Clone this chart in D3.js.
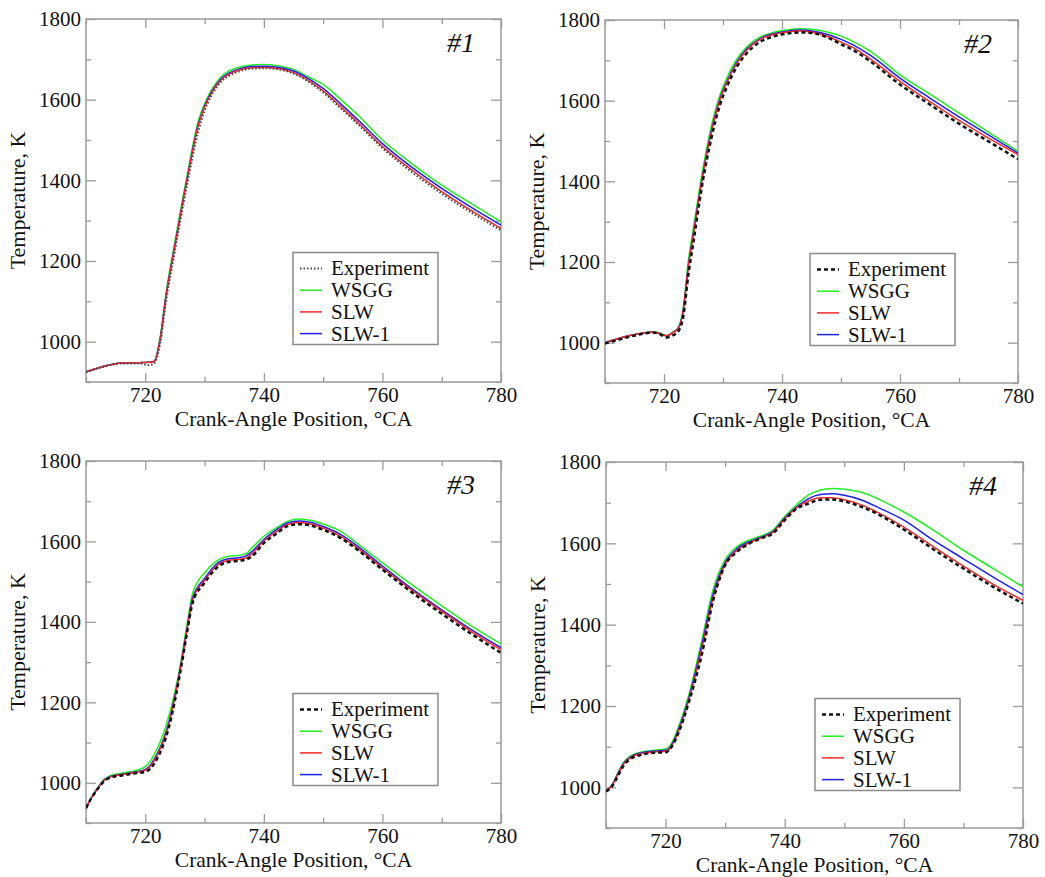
<!DOCTYPE html>
<html><head><meta charset="utf-8">
<script src="https://cdn.jsdelivr.net/npm/d3@7"></script>
<style>
body{margin:0;background:#fff;}
svg{display:block;font-family:"Liberation Serif","Times New Roman",serif;}
</style></head>
<body>
<svg id="chart" width="1045" height="877"></svg>
<script>
// ---------------- DATA ----------------
const seriesNames = ["Experiment","WSGG","SLW","SLW-1"];
const panelLabels = ["#1","#2","#3","#4"];
const xTicksMajor = [720,740,760,780];
const xTicksMinor = [710,730,750,770];
const yTicksMajor = [1000,1200,1400,1600,1800];
const yTicksMinor = [900,1100,1300,1500,1700];

// Panel #1
const p1Angle = [710,713,716,719,720.5,721.5,722.5,723.5,725,727,729,730,731,732,733,734,736,738,740,742,745,748,750,753,756,760,765,770,775,780];
const p1Exp   = [924,938,946,946,942,946,995,1100,1225,1385,1525,1572,1606,1630,1648,1658,1671,1677,1678,1676,1665,1640,1618,1578,1537,1480,1420,1367,1320,1276];
const p1Wsgg  = [925,939,947,948,949,952,1010,1120,1248,1408,1550,1590,1620,1643,1660,1670,1681,1686,1687,1685,1675,1653,1638,1600,1560,1500,1441,1388,1342,1297];
const p1Slw   = [925,939,947,948,949,951,1005,1112,1238,1398,1540,1582,1612,1635,1652,1662,1674,1679,1680,1678,1667,1643,1622,1582,1541,1484,1425,1372,1325,1281];
const p1Slw1  = [925,939,947,948,949,951,1006,1114,1240,1400,1542,1584,1615,1638,1655,1665,1677,1682,1683,1681,1671,1648,1628,1589,1548,1491,1432,1380,1333,1289];

// Panel #2
const p2Angle = [710,712,714,716,718,719,720.5,721.5,722.5,723.3,724.1,725,726.4,728,729.5,730.6,732.3,734,736.3,738.5,740.8,743,745,748,750,752,755,760,765,770,775,780];
const p2Exp   = [998,1006,1014,1021,1025,1023,1013,1018,1030,1068,1165,1250,1385,1505,1590,1632,1683,1717,1746,1759,1766,1769,1768,1755,1740,1726,1697,1640,1591,1543,1499,1455];
const p2Wsgg  = [1000,1009,1017,1023,1027,1025,1018,1026,1040,1090,1200,1285,1415,1535,1615,1655,1702,1733,1758,1769,1775,1778,1777,1769,1760,1747,1722,1664,1617,1569,1522,1474];
const p2Slw   = [1000,1009,1017,1023,1026,1024,1017,1025,1037,1082,1185,1270,1400,1520,1603,1643,1692,1725,1752,1764,1770,1773,1770,1758,1745,1732,1703,1648,1598,1551,1507,1466];
const p2Slw1  = [1000,1009,1017,1023,1026,1024,1017,1025,1038,1084,1188,1273,1403,1524,1606,1646,1695,1728,1754,1766,1772,1775,1773,1763,1752,1739,1712,1656,1607,1560,1515,1470];

// Panel #3
const p3Angle = [710,711,712,713,714,716,718,720,722,724,726,727,728,730,732,734,736,737,738,740,742,744,746,748,750,753,756,760,765,770,775,780];
const p3Exp   = [937,964,985,1003,1012,1018,1023,1027,1060,1139,1283,1370,1448,1497,1534,1549,1552,1555,1563,1596,1618,1638,1643,1639,1629,1608,1577,1530,1473,1420,1370,1323];
const p3Wsgg  = [937,966,988,1008,1017,1024,1029,1040,1085,1167,1300,1390,1472,1522,1551,1563,1566,1570,1584,1613,1633,1650,1656,1652,1643,1625,1592,1547,1492,1440,1390,1345];
const p3Slw   = [937,965,986,1005,1014,1020,1025,1031,1068,1147,1290,1377,1455,1503,1539,1553,1556,1559,1569,1601,1623,1642,1647,1643,1633,1612,1581,1534,1478,1426,1376,1331];
const p3Slw1  = [937,965,987,1006,1015,1021,1026,1033,1072,1152,1293,1380,1460,1508,1544,1557,1560,1564,1575,1605,1628,1646,1651,1647,1637,1617,1586,1539,1482,1430,1381,1336];

// Panel #4
const p4Angle = [710,711,712,713,714,716,718,720,721,722,724,726,728,730,732,734,736,738,740,742,744,746,748,750,753,756,760,765,770,775,780];
const p4Exp   = [990,1002,1028,1054,1069,1080,1085,1086,1099,1128,1214,1321,1460,1546,1579,1599,1612,1624,1657,1685,1698,1707,1708,1703,1689,1669,1634,1585,1538,1493,1452];
const p4Wsgg  = [992,1006,1036,1062,1076,1087,1091,1094,1108,1142,1233,1356,1487,1560,1592,1608,1618,1632,1666,1695,1719,1731,1735,1733,1725,1707,1677,1632,1583,1538,1493];
const p4Slw   = [992,1004,1032,1058,1072,1083,1087,1089,1101,1132,1220,1335,1468,1549,1583,1601,1613,1627,1660,1688,1704,1712,1712,1707,1694,1673,1640,1591,1544,1499,1460];
const p4Slw1  = [992,1005,1034,1060,1074,1085,1089,1091,1104,1136,1225,1345,1476,1553,1587,1604,1615,1629,1662,1690,1710,1720,1722,1718,1706,1686,1657,1607,1562,1517,1474];

// ---------------- LAYOUT / STYLE ----------------
const panels = [
  {angle:p1Angle, series:[p1Exp,p1Wsgg,p1Slw,p1Slw1], box:{l:86,r:501,t:19,b:382}, dotted:true},
  {angle:p2Angle, series:[p2Exp,p2Wsgg,p2Slw,p2Slw1], box:{l:605,r:1018,t:20,b:383}, dotted:false},
  {angle:p3Angle, series:[p3Exp,p3Wsgg,p3Slw,p3Slw1], box:{l:86,r:501,t:461,b:823}, dotted:false},
  {angle:p4Angle, series:[p4Exp,p4Wsgg,p4Slw,p4Slw1], box:{l:606,r:1023,t:462,b:828}, dotted:false}
];
const colors = ["#111","#22ee22","#f22a2a","#2020e8"];
const axisColor = "#9a9a9a";

const svg = d3.select("#chart");

panels.forEach((p,pi)=>{
  const B = p.box;
  const x = d3.scaleLinear().domain([710,780]).range([B.l,B.r]);
  const y = d3.scaleLinear().domain([900,1800]).range([B.b,B.t]);
  const g = svg.append("g");

  const styleAxis = sel => {
    sel.select(".domain").remove();
    sel.selectAll(".tick line").attr("stroke",axisColor).attr("stroke-width",1.3);
    sel.selectAll(".tick text").attr("fill","#111").style("font-size","21px")
      .style("font-family",'"Liberation Serif","Times New Roman",serif');
  };

  // bottom axes
  g.append("g").attr("transform",`translate(0,${B.b})`)
    .call(d3.axisBottom(x).tickValues(xTicksMajor).tickSize(-9).tickFormat(d3.format("d")))
    .call(styleAxis)
    .selectAll(".tick text").attr("dy","0.71em").attr("y",5);
  g.append("g").attr("transform",`translate(0,${B.b})`)
    .call(d3.axisBottom(x).tickValues(xTicksMinor).tickSize(-5).tickFormat(""))
    .call(styleAxis);
  // top mirrored
  g.append("g").attr("transform",`translate(0,${B.t})`)
    .call(d3.axisTop(x).tickValues(xTicksMajor).tickSize(-9).tickFormat(""))
    .call(styleAxis);
  g.append("g").attr("transform",`translate(0,${B.t})`)
    .call(d3.axisTop(x).tickValues(xTicksMinor).tickSize(-5).tickFormat(""))
    .call(styleAxis);
  // left axes
  g.append("g").attr("transform",`translate(${B.l},0)`)
    .call(d3.axisLeft(y).tickValues(yTicksMajor).tickSize(-10).tickPadding(5).tickFormat(d3.format("d")))
    .call(styleAxis);
  g.append("g").attr("transform",`translate(${B.l},0)`)
    .call(d3.axisLeft(y).tickValues(yTicksMinor).tickSize(-5).tickFormat(""))
    .call(styleAxis);
  // right mirrored
  g.append("g").attr("transform",`translate(${B.r},0)`)
    .call(d3.axisRight(y).tickValues(yTicksMajor).tickSize(-10).tickFormat(""))
    .call(styleAxis);
  g.append("g").attr("transform",`translate(${B.r},0)`)
    .call(d3.axisRight(y).tickValues(yTicksMinor).tickSize(-5).tickFormat(""))
    .call(styleAxis);

  // frame
  g.append("rect").attr("x",B.l).attr("y",B.t).attr("width",B.r-B.l).attr("height",B.b-B.t)
    .attr("fill","none").attr("stroke",axisColor).attr("stroke-width",1.5);

  // clip
  const cid = "clip"+pi;
  svg.append("clipPath").attr("id",cid).append("rect")
    .attr("x",B.l).attr("y",B.t).attr("width",B.r-B.l).attr("height",B.b-B.t);

  const line = d3.line().x(d=>x(d[0])).y(d=>y(d[1])).curve(d3.curveMonotoneX);
  const lg = g.append("g").attr("clip-path",`url(#${cid})`);
  // draw models first (WSGG, SLW-1, SLW), experiment on top
  [1,3,2,0].forEach(si=>{
    const pts = p.angle.map((a,i)=>[a,p.series[si][i]]);
    const path = lg.append("path").datum(pts).attr("d",line).attr("fill","none")
      .attr("stroke",colors[si]);
    if(si===0){
      if(p.dotted) path.attr("stroke","#444").attr("stroke-width",2).attr("stroke-dasharray","1.5,2");
      else path.attr("stroke-width",2.5).attr("stroke-dasharray","4,3");
    } else path.attr("stroke-width",1.5);
  });

  // axis titles
  g.append("text").attr("x",(B.l+B.r)/2).attr("y",B.b+44).attr("text-anchor","middle")
    .style("font-size","21.5px").attr("fill","#111").text("Crank-Angle Position, °CA");
  g.append("text").attr("transform",`translate(${B.l-61},${(B.t+B.b)/2}) rotate(-90)`)
    .attr("text-anchor","middle").style("font-size","22px").attr("fill","#111").text("Temperature, K");

  // panel label
  g.append("text").attr("x",B.r-26).attr("y",B.t+33).attr("text-anchor","end")
    .style("font-size","28px").style("font-style","italic").attr("fill","#111").text(panelLabels[pi]);

  // legend
  const lw = 145, lh = 92;
  const lx = B.r-63-lw, ly = B.b-37.5-lh;
  const leg = g.append("g");
  leg.append("rect").attr("x",lx).attr("y",ly).attr("width",lw).attr("height",lh)
    .attr("fill","#fff").attr("stroke","#8a8a8a").attr("stroke-width",1.5);
  seriesNames.forEach((nm,si)=>{
    const ry = ly+16+si*21.7;
    const ln = leg.append("line").attr("x1",lx+7).attr("x2",lx+29).attr("y1",ry).attr("y2",ry)
      .attr("stroke",colors[si]);
    if(si===0){
      if(p.dotted) ln.attr("stroke","#444").attr("stroke-width",2).attr("stroke-dasharray","1.5,2");
      else ln.attr("stroke-width",2.5).attr("stroke-dasharray","4,3");
    } else ln.attr("stroke-width",1.5);
    leg.append("text").attr("x",lx+38).attr("y",ry).attr("dy","0.33em")
      .style("font-size","21px").attr("fill","#111").text(nm);
  });
});
</script>
</body></html>
